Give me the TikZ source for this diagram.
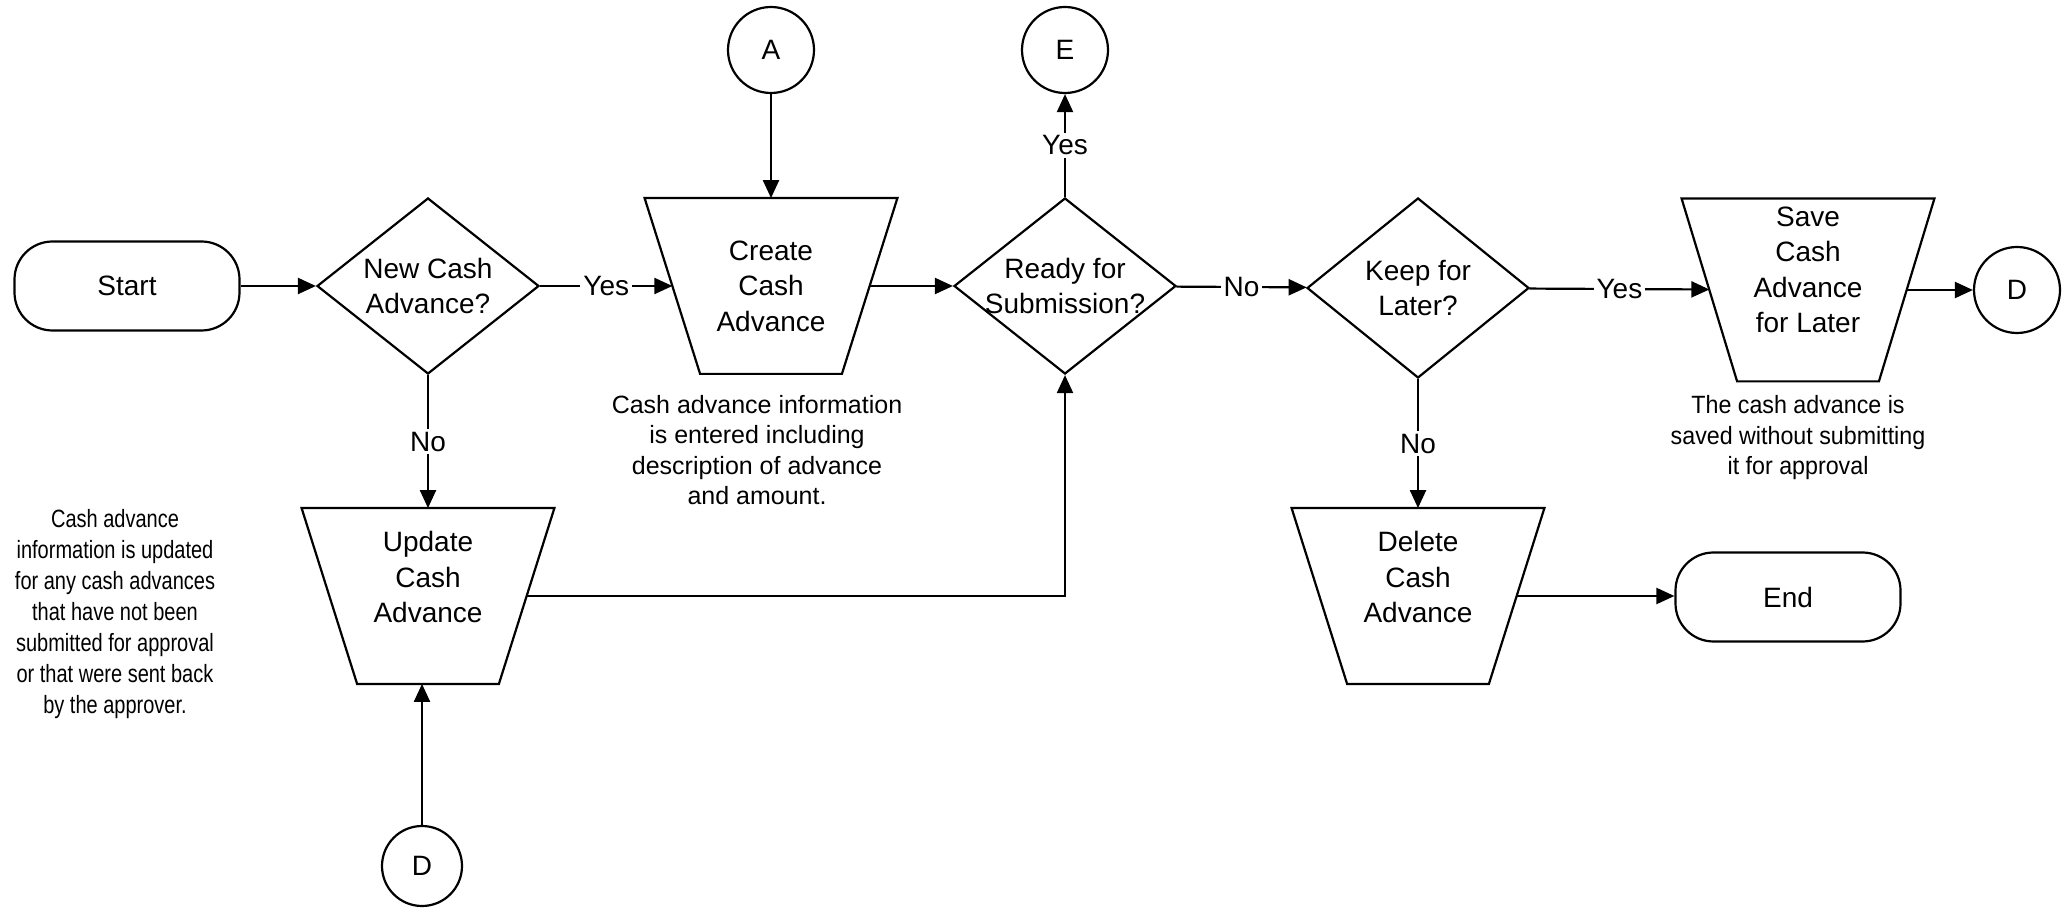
\documentclass[tikz,border=0pt]{standalone}
\usepackage{fontspec}
\setmainfont{Liberation Sans}
\newfontfamily\narrowfont[FakeStretch=0.8]{Liberation Sans}
\newfontfamily\semifont[FakeStretch=0.93]{Liberation Sans}
\usetikzlibrary{shapes.geometric,arrows.meta}

\tikzset{
  ln/.style={line width=1.1pt, draw=black},
  arr/.style={ln, -{Triangle[length=9pt,width=8pt]}},
  shapetext/.style={font=\fontsize{14}{17.75}\selectfont, align=center, inner sep=0pt},
  note/.style={font=\fontsize{12.5}{15.25}\selectfont, align=center, inner sep=0pt},
  term/.style={ln, rectangle, rounded corners=19pt, minimum width=112.5pt,
    minimum height=44.5pt, inner sep=0pt, font=\fontsize{14}{17}\selectfont},
  decision/.style={ln, diamond, minimum width=111pt, minimum height=88pt, inner sep=0pt},
  opbox/.style={rectangle, minimum width=98.25pt, minimum height=87.5pt, inner sep=0pt},
  conn/.style={ln, circle, minimum size=43pt, inner sep=0pt, font=\fontsize{14}{17}\selectfont},
  lab/.style={fill=white, inner sep=1.5pt, font=\fontsize{14}{17}\selectfont},
}

% outline of a manual-operation box (wide top, narrow bottom) around a named opbox node
\newcommand\opoutline[1]{%
  \draw[ln] ([xshift=-13.875pt]#1.north west) -- ([xshift=13.875pt]#1.north east)
    -- ([xshift=-13.875pt]#1.south east) -- ([xshift=13.875pt]#1.south west) -- cycle;}

\begin{document}
\begin{tikzpicture}[x=0.5pt, y=-0.5pt]
  \path[fill=white, use as bounding box] (0,0) rectangle (2072,908);

  % top row
  \node[term] (start) at (127,286) {Start};
  \node[decision, label={[shapetext]center:{New Cash\\Advance?}}] (newca) at (428,286) {};
  \node[opbox, label={[shapetext]center:{Create\\Cash\\Advance}}] (create) at (771,286) {};
  \opoutline{create}
  \node[decision, label={[shapetext]center:{Ready for\\Submission?}}] (ready) at (1065,286) {};
  \node[decision, minimum height=90pt, label={[shapetext]center:{Keep for\\Later?}}] (keep) at (1418,288) {};
  \node[opbox, minimum height=91pt, label={[shapetext, yshift=10pt]center:{Save\\Cash\\Advance\\for Later}}] (save) at (1808,290) {};
  \opoutline{save}
  \node[conn] (dright) at (2017,290) {D};

  % off-page connectors at the top
  \node[conn] (ca) at (771,50) {A};
  \node[conn] (ce) at (1065,50) {E};

  % bottom row
  \node[opbox, label={[shapetext, yshift=9.5pt]center:{Update\\Cash\\Advance}}] (update) at (428,596) {};
  \opoutline{update}
  \node[opbox, label={[shapetext, yshift=9.5pt]center:{Delete\\Cash\\Advance}}] (delete) at (1418,596) {};
  \opoutline{delete}
  \node[term] (end) at (1788,597) {End};
  \node[conn, minimum size=40pt] (dbottom) at (422,866) {D};

  % notes
  \node[note, font=\narrowfont\fontsize{12.5}{15.5}\selectfont] (noteupd) at (115,614) {Cash advance\\information is updated\\for any cash advances\\that have not been\\submitted for approval\\or that were sent back\\by the approver.};
  \node[note] (notecre) at (757,450) {Cash advance information\\is entered including\\description of advance\\and amount.};
  \node[note, font=\semifont\fontsize{12.5}{15.25}\selectfont] (notesave) at (1798,438) {The cash advance is\\saved without submitting\\it for approval};

  % connectors
  \draw[arr] (start) -- (newca);
  \draw[arr] (newca) -- node[lab] {Yes} (create);
  \draw[arr] (ca) -- (create.north);
  \draw[arr] (create) -- (ready);
  \draw[arr] (ready.north) -- node[lab] {Yes} (ce);
  \draw[arr] (ready) -- node[lab] {No} (keep);
  \draw[arr] (keep) -- node[lab] {Yes} (save);
  \draw[arr] (save) -- (dright);
  \draw[arr] (newca) -- node[lab] {No} (update);
  \draw[arr] (keep.south) -- node[lab] {No} (delete.north);
  \draw[arr] (update.east) -| (ready.south);
  \draw[arr] (dbottom.north) -- (dbottom.north |- update.south);
  \draw[arr] (delete.east) -- (delete.east -| end.west);
\end{tikzpicture}
\end{document}
